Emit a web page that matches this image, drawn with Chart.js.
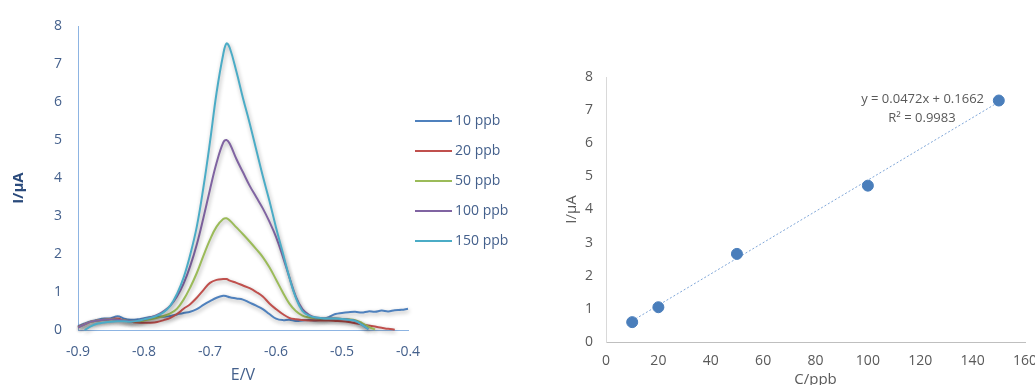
<!DOCTYPE html>
<html>
<head>
<meta charset="utf-8">
<script src="https://cdn.jsdelivr.net/npm/chart.js@4.4.1/dist/chart.umd.min.js"></script>
<style>
  html, body { margin: 0; padding: 0; background: #ffffff; }
  #wrap { position: relative; width: 1035px; height: 385px; overflow: hidden; background: #fff; }
  #c1 { position: absolute; left: 0; top: 0; }
  #c2 { position: absolute; left: 540px; top: 0; }
</style>
</head>
<body>
<div id="wrap">
  <canvas id="c1" width="520" height="385"></canvas>
  <canvas id="c2" width="513" height="385"></canvas>
</div>
<script>
// ---------- Data: voltammograms (left) ----------
const potentialV = [-0.90,-0.89,-0.88,-0.87,-0.86,-0.85,-0.84,-0.83,-0.82,-0.81,
  -0.80,-0.79,-0.78,-0.77,-0.76,-0.75,-0.74,-0.73,-0.72,-0.71,
  -0.70,-0.69,-0.68,-0.675,-0.67,-0.66,-0.65,-0.64,-0.63,-0.62,
  -0.61,-0.60,-0.59,-0.58,-0.57,-0.56,-0.55,-0.54,-0.53,-0.52,
  -0.51,-0.50,-0.49,-0.48,-0.47,-0.46,-0.45,-0.44,-0.43,-0.42,-0.41,-0.40];

const current10ppb = [0.10,0.17,0.23,0.27,0.30,0.31,0.36,0.30,0.27,0.28,
  0.31,0.34,0.36,0.35,0.37,0.41,0.45,0.48,0.55,0.66,
  0.76,0.85,0.90,0.89,0.86,0.83,0.80,0.72,0.64,0.55,
  0.42,0.30,0.26,0.27,0.24,0.25,0.26,0.25,0.28,0.34,
  0.42,0.45,0.47,0.48,0.46,0.49,0.48,0.51,0.49,0.52,0.53,0.56];

const current20ppb = [0.08,0.15,0.22,0.25,0.27,0.29,0.30,0.25,0.22,0.20,
  0.19,0.19,0.21,0.26,0.32,0.42,0.56,0.68,0.85,1.05,
  1.24,1.32,1.34,1.34,1.30,1.24,1.17,1.10,1.00,0.88,
  0.70,0.55,0.42,0.32,0.28,0.26,0.25,0.25,0.25,0.25,
  0.24,0.23,0.21,0.18,0.15,0.12,0.09,0.06,0.03,0.01,null,null];

const current50ppb = [0.06,0.15,0.22,0.25,0.27,0.28,0.27,0.25,0.23,0.23,
  0.25,0.28,0.32,0.37,0.44,0.56,0.80,1.12,1.50,1.95,
  2.38,2.72,2.92,2.94,2.88,2.70,2.52,2.33,2.13,1.92,
  1.65,1.33,1.00,0.70,0.50,0.38,0.33,0.31,0.30,0.30,
  0.30,0.29,0.28,0.26,0.19,0.09,0.01,null,null,null,null,null];

const current100ppb = [0.06,0.15,0.22,0.25,0.27,0.28,0.27,0.25,0.23,0.24,
  0.28,0.33,0.40,0.50,0.64,0.88,1.22,1.68,2.25,2.95,
  3.70,4.40,4.93,5.00,4.90,4.50,4.15,3.80,3.50,3.20,
  2.85,2.45,1.95,1.40,0.88,0.55,0.40,0.33,0.31,0.30,
  0.30,0.29,0.27,0.24,0.14,0.02,null,null,null,null,null,null];

const current150ppb = [null,0.00,0.10,0.17,0.20,0.22,0.23,0.23,0.22,0.24,
  0.28,0.32,0.38,0.47,0.64,0.95,1.38,1.98,2.72,3.75,
  4.95,6.25,7.25,7.54,7.42,6.80,6.10,5.45,4.75,4.05,
  3.40,2.70,2.05,1.40,0.85,0.50,0.38,0.33,0.31,0.30,
  0.30,0.29,0.27,0.24,0.14,0.02,null,null,null,null,null,null];

const seriesLabels = ['10 ppb','20 ppb','50 ppb','100 ppb','150 ppb'];
const seriesColors = ['#4F81BD','#C0504D','#9BBB59','#8064A2','#4BACC6'];
const seriesCurrents = [current10ppb, current20ppb, current50ppb, current100ppb, current150ppb];

// ---------- Data: calibration (right) ----------
const concentrationPpb = [10, 20, 50, 100, 150];
const peakCurrentUA = [0.60, 1.05, 2.66, 4.72, 7.29];
const fitSlope = 0.0472;
const fitIntercept = 0.1662;
const equationText = 'y = 0.0472x + 0.1662';
const r2Text = 'R² = 0.9983';

const FONT = "'Open Sans', 'Liberation Sans', sans-serif";
const LEFT_TEXT = '#44608c';

// ---------- Plugins ----------
const lineShadow = {
  id: 'lineShadow',
  beforeDatasetsDraw(chart) {
    const c = chart.ctx;
    c.save();
    c.shadowColor = 'rgba(0,0,0,0.33)';
    c.shadowBlur = 4;
    c.shadowOffsetX = 1;
    c.shadowOffsetY = 2;
  },
  afterDatasetsDraw(chart) { chart.ctx.restore(); }
};

const sideLegend = {
  id: 'sideLegend',
  afterDraw(chart) {
    const c = chart.ctx, a = chart.chartArea;
    c.save();
    c.font = '14px ' + FONT;
    c.textBaseline = 'middle';
    c.textAlign = 'left';
    chart.data.datasets.forEach((ds, i) => {
      const y = a.top + 95 + i * 30;
      const x0 = a.right + 7;
      c.strokeStyle = ds.borderColor;
      c.lineWidth = 2;
      c.beginPath(); c.moveTo(x0, y); c.lineTo(x0 + 37, y); c.stroke();
      c.fillStyle = LEFT_TEXT;
      c.fillText(ds.label, x0 + 40, y);
    });
    // y-axis title (bold), slightly below centre as in the original
    c.translate(19, (a.top + a.bottom) / 2 + 10);
    c.rotate(-Math.PI / 2);
    c.font = 'bold 15px ' + FONT;
    c.fillStyle = '#2a4a7b';
    c.textAlign = 'center';
    c.fillText('I/µA', 0, 0);
    c.restore();
  }
};

const fitLabel = {
  id: 'fitLabel',
  afterDraw(chart) {
    const c = chart.ctx, a = chart.chartArea;
    c.save();
    c.font = '13px ' + FONT;
    c.fillStyle = '#595959';
    c.textBaseline = 'middle';
    c.textAlign = 'right';
    c.fillText(equationText, a.right - 41, a.top + 22);
    c.textAlign = 'center';
    c.fillText(r2Text, a.right - 103, a.top + 41);
    c.restore();
  }
};

// ---------- Left chart ----------
new Chart(document.getElementById('c1'), {
  type: 'line',
  data: {
    datasets: seriesCurrents.map((arr, i) => ({
      label: seriesLabels[i],
      data: potentialV.map((x, k) => ({ x: x, y: arr[k] })),
      borderColor: seriesColors[i],
      backgroundColor: seriesColors[i],
      borderWidth: 2,
      pointRadius: 0,
      tension: 0.4,
      fill: false,
      clip: 6,
      order: seriesLabels.length - i
    }))
  },
  options: {
    responsive: false,
    animation: false,
    devicePixelRatio: 1,
    layout: { padding: { top: 26, right: 112, left: 0, bottom: 0 } },
    plugins: { legend: { display: false }, tooltip: { enabled: false } },
    scales: {
      x: {
        type: 'linear', min: -0.9, max: -0.4,
        afterFit(s) { s.height = 55; },
        grid: { display: false, drawTicks: false },
        border: { display: true, color: '#8DB4E2', width: 1 },
        ticks: { stepSize: 0.1, padding: 14, color: LEFT_TEXT, font: { family: FONT, size: 14 },
                 callback: v => v.toFixed(1) },
        title: { display: true, text: 'E/V', color: LEFT_TEXT, font: { family: FONT, size: 16 },
                 padding: { top: 0, bottom: 0 } }
      },
      y: {
        type: 'linear', min: 0, max: 8,
        afterFit(s) { s.width = 78; },
        grid: { display: false, drawTicks: false },
        border: { display: true, color: '#8DB4E2', width: 1 },
        ticks: { stepSize: 1, padding: 16, color: LEFT_TEXT, font: { family: FONT, size: 14 } },
        title: { display: false }
      }
    }
  },
  plugins: [lineShadow, sideLegend]
});

// ---------- Right chart ----------
const trendX = [concentrationPpb[0], concentrationPpb[concentrationPpb.length - 1]];
new Chart(document.getElementById('c2'), {
  type: 'scatter',
  data: {
    datasets: [
      {
        label: 'I/µA',
        data: concentrationPpb.map((x, k) => ({ x: x, y: peakCurrentUA[k] })),
        backgroundColor: '#4A7EBB',
        borderColor: '#4A7EBB',
        pointRadius: 5.5,
        order: 1
      },
      {
        type: 'line',
        label: 'Linear fit',
        data: trendX.map(x => ({ x: x, y: fitSlope * x + fitIntercept })),
        borderColor: '#7FA6D8',
        borderWidth: 1,
        borderDash: [2, 2],
        pointRadius: 0,
        fill: false,
        order: 2
      }
    ]
  },
  options: {
    responsive: false,
    animation: false,
    devicePixelRatio: 1,
    layout: { padding: { top: 77, right: 28, left: 0, bottom: 0 } },
    plugins: { legend: { display: false }, tooltip: { enabled: false } },
    scales: {
      x: {
        type: 'linear', min: 0, max: 160,
        afterFit(s) { s.height = 43; },
        grid: { display: false, drawTicks: false },
        border: { display: true, color: '#BFBFBF', width: 1 },
        ticks: { stepSize: 20, padding: 11, color: '#595959', font: { family: FONT, size: 14 } },
        title: { display: true, text: 'C/ppb', color: '#595959', font: { family: FONT, size: 15 },
                 padding: { top: 0, bottom: -4 } }
      },
      y: {
        type: 'linear', min: 0, max: 8,
        afterFit(s) { s.width = 66; },
        grid: { display: false, drawTicks: false },
        border: { display: true, color: '#D9D9D9', width: 1 },
        ticks: { stepSize: 1, padding: 13, color: '#595959', font: { family: FONT, size: 14 } },
        title: { display: true, text: 'I/µA', color: '#595959', font: { family: FONT, size: 15 },
                 padding: { top: 23, bottom: 0 } }
      }
    }
  },
  plugins: [fitLabel]
});
</script>
</body>
</html>
